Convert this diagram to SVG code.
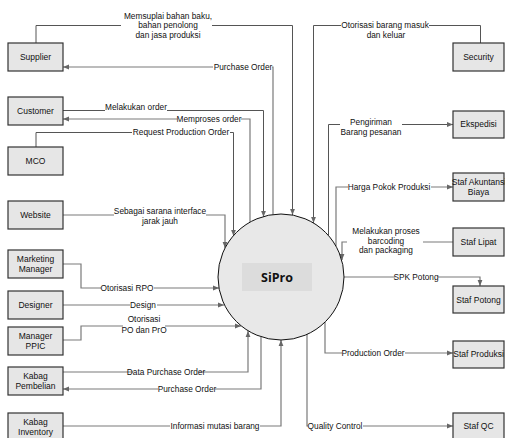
<svg xmlns="http://www.w3.org/2000/svg" width="505" height="438" viewBox="0 0 505 438">
<style>
.box{fill:#e6e6e6;stroke:#333;stroke-width:1.2}
.bt{font-family:"Liberation Sans",Arial,sans-serif;font-size:8.5px;fill:#111;text-anchor:middle}
.lt{font-family:"Liberation Sans",Arial,sans-serif;font-size:8.3px;fill:#111;text-anchor:middle}
.ln{fill:none;stroke:#555;stroke-width:1}
.lg{fill:none;stroke:#7a7a7a;stroke-width:1.2}
.bg{fill:#fff}
</style>
<defs>
<marker id="ah" viewBox="0 0 6 6" refX="6" refY="3" markerWidth="6" markerHeight="6" orient="auto" markerUnits="userSpaceOnUse">
<path d="M0,0.6 L6,3 L0,5.4z" fill="#666"/>
</marker>
</defs>
<rect width="505" height="438" fill="#fff"/>
<g id="connectors">
<polyline class="ln" points="36,43 36,25.5 292.5,25.5 292.5,215" marker-end="url(#ah)"/>
<polyline class="lg" points="273,215 273,67 63,67" marker-end="url(#ah)"/>
<polyline class="ln" points="63,110.5 263.5,110.5 263.5,217" marker-end="url(#ah)"/>
<polyline class="lg" points="250,222 250,119 63,119" marker-end="url(#ah)"/>
<polyline class="ln" points="36,147 36,132.5 233.5,132.5 233.5,236" marker-end="url(#ah)"/>
<polyline class="lg" points="63,215 225,215 225,248" marker-end="url(#ah)"/>
<polyline class="lg" points="63,264 81,264 81,288 219,288" marker-end="url(#ah)"/>
<polyline class="lg" points="63,305 224,305" marker-end="url(#ah)"/>
<polyline class="lg" points="63,340 81,340 81,326 241,326" marker-end="url(#ah)"/>
<polyline class="lg" points="63,372 248,372 248,331" marker-end="url(#ah)"/>
<polyline class="lg" points="261,337 261,389 63,389" marker-end="url(#ah)"/>
<polyline class="lg" points="63,426 281,426 281,340" marker-end="url(#ah)"/>
<polyline class="ln" points="480.5,43 480.5,25.5 313.5,25.5 313.5,223" marker-end="url(#ah)"/>
<polyline class="ln" points="328.5,235 328.5,124.5 453,124.5" marker-end="url(#ah)"/>
<polyline class="lg" points="336,246 336,187 453,187" marker-end="url(#ah)"/>
<polyline class="lg" points="453,242 342,242 342,260" marker-end="url(#ah)"/>
<polyline class="lg" points="344,277 480,277 480,286" marker-end="url(#ah)"/>
<polyline class="lg" points="325,322 325,353 453,353" marker-end="url(#ah)"/>
<polyline class="lg" points="307,334 307,426 453,426" marker-end="url(#ah)"/>
<rect class="bg" x="121" y="10" width="91" height="30"/>
<text class="lt" x="168" y="18.5">Memsuplai bahan baku,</text>
<text class="lt" x="168" y="28">bahan penolong</text>
<text class="lt" x="168" y="37.5">dan jasa produksi</text>
<rect class="bg" x="213" y="62" width="59" height="10"/>
<text class="lt" x="243" y="70">Purchase Order</text>
<rect class="bg" x="105" y="102" width="62" height="10"/>
<text class="lt" x="136" y="109.5">Melakukan order</text>
<rect class="bg" x="177" y="114" width="64" height="10"/>
<text class="lt" x="209" y="122">Memproses order</text>
<rect class="bg" x="132" y="127" width="98" height="10"/>
<text class="lt" x="181" y="135">Request Production Order</text>
<rect class="bg" x="114" y="205" width="92" height="21"/>
<text class="lt" x="160" y="214">Sebagai sarana interface</text>
<text class="lt" x="160" y="224">jarak jauh</text>
<rect class="bg" x="101" y="283" width="53" height="10"/>
<text class="lt" x="127" y="291">Otorisasi RPO</text>
<rect class="bg" x="130" y="300" width="27" height="10"/>
<text class="lt" x="143" y="308">Design</text>
<rect class="bg" x="123" y="313" width="42" height="22"/>
<text class="lt" x="144" y="322">Otorisasi</text>
<text class="lt" x="144" y="333">PO dan PrO</text>
<rect class="bg" x="133" y="367" width="66" height="10"/>
<text class="lt" x="166" y="375">Data Purchase Order</text>
<rect class="bg" x="158" y="384" width="57" height="10"/>
<text class="lt" x="187" y="392">Purchase Order</text>
<rect class="bg" x="170" y="421" width="90" height="10"/>
<text class="lt" x="215" y="429">Informasi mutasi barang</text>
<rect class="bg" x="341" y="20" width="88" height="19"/>
<text class="lt" x="385" y="28">Otorisasi barang masuk</text>
<text class="lt" x="386" y="37.5">dan keluar</text>
<rect class="bg" x="340" y="116" width="62" height="22"/>
<text class="lt" x="371" y="125">Pengiriman</text>
<text class="lt" x="371" y="135">Barang pesanan</text>
<rect class="bg" x="348" y="182" width="83" height="10"/>
<text class="lt" x="389" y="190">Harga Pokok Produksi</text>
<rect class="bg" x="347" y="226" width="76" height="30"/>
<text class="lt" x="386" y="234">Melakukan proses</text>
<text class="lt" x="386" y="244">barcoding</text>
<text class="lt" x="386" y="253">dan packaging</text>
<rect class="bg" x="395" y="272" width="43" height="10"/>
<text class="lt" x="416" y="280">SPK Potong</text>
<rect class="bg" x="342" y="348" width="63" height="10"/>
<text class="lt" x="373" y="356">Production Order</text>
<rect class="bg" x="308" y="421" width="55" height="10"/>
<text class="lt" x="335" y="429">Quality Control</text>
</g>
<g id="sipro">
<circle cx="281" cy="277" r="63" fill="#e8e8e8" stroke="#111" stroke-width="1"/>
<rect x="242" y="263" width="70" height="28" fill="#dcdcdc"/>
<text x="277" y="282" font-family="'Open Sans','Liberation Sans',sans-serif" font-size="12.5" font-weight="bold" text-anchor="middle" fill="#111">SiPro</text>
</g>
<g id="supplier"><rect class="box" x="8" y="43" width="55" height="28"/><text class="bt" x="35.5" y="60">Supplier</text></g>
<g id="customer"><rect class="box" x="8" y="97" width="55" height="28"/><text class="bt" x="35.5" y="114">Customer</text></g>
<g id="mco"><rect class="box" x="8" y="147" width="55" height="28"/><text class="bt" x="35.5" y="164">MCO</text></g>
<g id="website"><rect class="box" x="8" y="201" width="55" height="28"/><text class="bt" x="35.5" y="218">Website</text></g>
<g id="marketing-manager"><rect class="box" x="8" y="250" width="55" height="28"/><text class="bt" x="35.5" y="262">Marketing</text><text class="bt" x="35.5" y="272">Manager</text></g>
<g id="designer"><rect class="box" x="8" y="291" width="55" height="28"/><text class="bt" x="35.5" y="308">Designer</text></g>
<g id="manager-ppic"><rect class="box" x="8" y="327" width="55" height="28"/><text class="bt" x="35.5" y="339">Manager</text><text class="bt" x="35.5" y="349">PPIC</text></g>
<g id="kabag-pembelian"><rect class="box" x="8" y="367" width="55" height="28"/><text class="bt" x="35.5" y="379">Kabag</text><text class="bt" x="35.5" y="389">Pembelian</text></g>
<g id="kabag-inventory"><rect class="box" x="8" y="413" width="55" height="28"/><text class="bt" x="35.5" y="425">Kabag</text><text class="bt" x="35.5" y="435">Inventory</text></g>
<g id="security"><rect class="box" x="453" y="43" width="51" height="28"/><text class="bt" x="478.5" y="60">Security</text></g>
<g id="ekspedisi"><rect class="box" x="453" y="111" width="51" height="27"/><text class="bt" x="478.5" y="127">Ekspedisi</text></g>
<g id="staf-akuntansi"><rect class="box" x="453" y="173" width="51" height="28"/><text class="bt" x="479" y="185">Staf Akuntansi</text><text class="bt" x="478.5" y="195">Biaya</text></g>
<g id="staf-lipat"><rect class="box" x="453" y="228" width="51" height="28"/><text class="bt" x="478.5" y="245">Staf Lipat</text></g>
<g id="staf-potong"><rect class="box" x="453" y="286" width="51" height="27"/><text class="bt" x="478.5" y="303">Staf Potong</text></g>
<g id="staf-produksi"><rect class="box" x="453" y="341" width="51" height="27"/><text class="bt" x="478.5" y="357">Staf Produksi</text></g>
<g id="staf-qc"><rect class="box" x="453" y="413" width="51" height="28"/><text class="bt" x="478.5" y="429">Staf QC</text></g>
</svg>
